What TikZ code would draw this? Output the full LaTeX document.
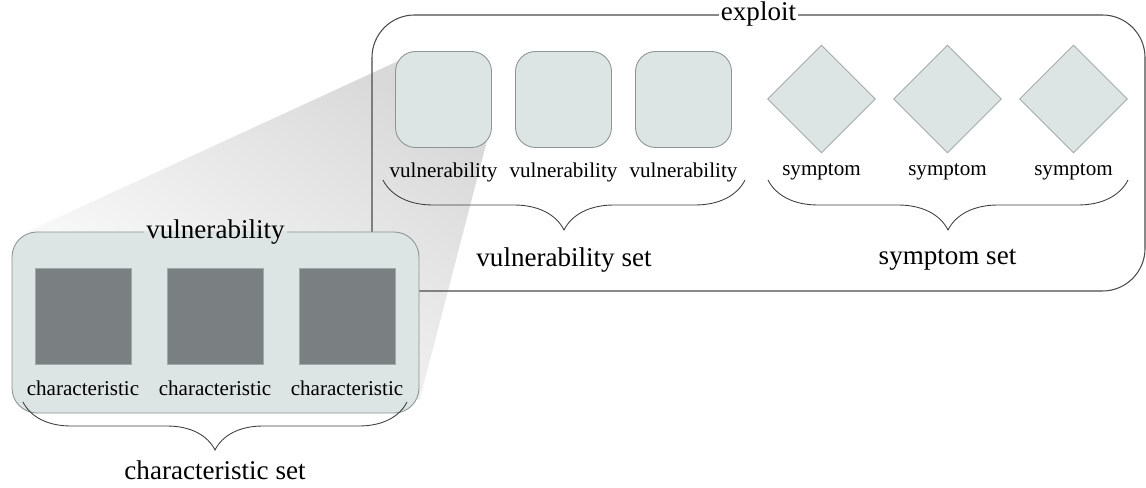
\documentclass[tikz,border=0pt]{standalone}
\usepackage{fontspec}
\setmainfont{Liberation Serif}
\usetikzlibrary{shapes.geometric}
\usetikzlibrary{decorations.pathreplacing}
\usetikzlibrary{calc, backgrounds}

\definecolor{vulfill}{HTML}{DCE4E4}
\definecolor{vuledge}{HTML}{8C9494}
\definecolor{sympedge}{HTML}{A2AAAA}
\definecolor{charfill}{HTML}{7A8081}
\definecolor{charedge}{HTML}{A0A8A8}
\definecolor{exedge}{HTML}{4A4A4A}

\begin{document}
\begin{tikzpicture}[vul/.style={draw=vuledge,fill=vulfill,rounded corners=0.4cm,minimum size=1.92cm,line width=0.5pt},
		symp/.style={draw=sympedge,fill=vulfill,shape=diamond,minimum size=2.16cm,inner sep=0pt,line width=0.5pt},
		chr/.style={draw=charedge,fill=charfill,minimum size=1.92cm,line width=0.5pt},
		lbl/.style={font=\fontsize{12}{14}\selectfont,inner sep=0pt},
		big/.style={font=\fontsize{15.4}{18}\selectfont,inner sep=1pt},
		brc/.style={decorate,decoration={brace,mirror,amplitude=1cm},draw=black!75,line width=0.5pt}]
	\useasboundingbox (0,0) rectangle (22.92,-9.76);

	% exploit
	\node[draw=exedge,line width=0.6pt,rounded corners=0.85cm,minimum width=15.46cm,minimum height=5.52cm] (exploit) at (15.17,-3.06) {};
	\node[big,fill=white] (exlbl) at (exploit.north) {exploit};

	% vulnerabilities
	\node[vul] (v1) at (8.87,-1.99) {};
	\node[vul] (v2) at (11.27,-1.99) {};
	\node[vul] (v3) at (13.67,-1.99) {};
	\node[lbl] (vl1) at (8.87,-3.44) {vulnerability};
	\node[lbl] (vl2) at (11.27,-3.44) {vulnerability};
	\node[lbl] (vl3) at (13.67,-3.44) {vulnerability};

	% symptoms
	\node[symp] (s1) at (16.43,-1.98) {};
	\node[symp] (s2) at (18.95,-1.98) {};
	\node[symp] (s3) at (21.47,-1.98) {};
	\node[lbl] (sl1) at (16.43,-3.44) {symptom};
	\node[lbl] (sl2) at (18.95,-3.44) {symptom};
	\node[lbl] (sl3) at (21.47,-3.44) {symptom};

	\coordinate (vb1) at (7.66,-3.60);
	\coordinate (vb2) at (14.90,-3.60);
	\coordinate (sb1) at (15.36,-3.60);
	\coordinate (sb2) at (22.56,-3.60);
	\draw[brc] (vb1) -- (vb2);
	\draw[brc] (sb1) -- (sb2);
	\node[big] (vset) at (11.28,-5.20) {vulnerability set};
	\node[big] (sset) at (18.95,-5.20) {symptom set};

	% zoomed vulnerability
	\node[vul,rounded corners=0.5cm,minimum width=8.14cm,minimum height=3.62cm] (bigvul) at (4.31,-6.45) {};
	\node[big] (bvgap) at (bigvul.north) {\phantom{vulnerability}};
	\draw[vulfill,line width=1.2pt] (bvgap.west |- bigvul.north) -- (bvgap.east |- bigvul.north);
	\node[big] (bvlbl) at (bvgap) {vulnerability};
	\node[chr] (c1) at (1.66,-6.32) {};
	\node[chr] (c2) at (4.30,-6.32) {};
	\node[chr] (c3) at (6.94,-6.32) {};
	\node[lbl] (cl1) at (1.66,-7.76) {characteristic};
	\node[lbl] (cl2) at (4.30,-7.76) {characteristic};
	\node[lbl] (cl3) at (6.94,-7.76) {characteristic};

	\coordinate (cb1) at (0.46,-8.04);
	\coordinate (cb2) at (8.14,-8.04);
	\draw[brc,decoration={amplitude=0.96cm}] (cb1) -- (cb2);
	\node[big] (cset) at (4.30,-9.40) {characteristic set};

	\begin{pgfonlayer}{background}
		\shade[top color=black!15,middle color=black!2,bottom color=white,shading angle=-35]
		($(v1.north west)+(0.06,-0.2)$) -- ($(bigvul.north west)+(0.32,0)$) -- ($(bigvul.south east)+(0,0.26)$) -- ($(v1.south east)+(-0.1,0.14)$) -- cycle;
	\end{pgfonlayer}
\end{tikzpicture}
\end{document}
